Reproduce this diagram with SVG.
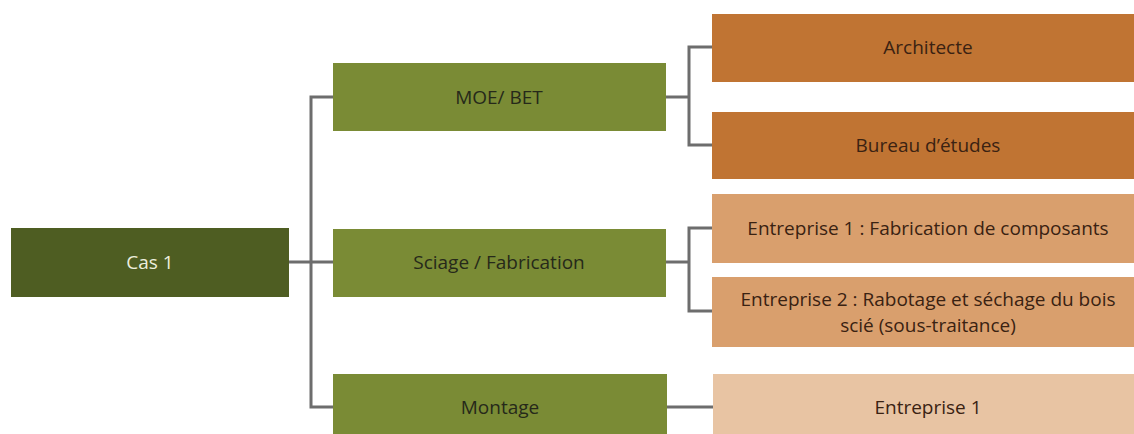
<svg xmlns="http://www.w3.org/2000/svg" width="1134" height="434" viewBox="0 0 1134 434">
<style>
.t{font-family:"Open Sans","Liberation Sans",sans-serif;font-size:19px;text-anchor:middle}
.dk{fill:#26291a}
.or{fill:#3a2212}
.c{stroke:#6d6d6d;stroke-width:3;fill:none}
</style>
<rect width="1134" height="434" fill="#ffffff"/>
<g id="connectors">
<path class="c" d="M289 262 H333"/>
<path class="c" d="M333 97 H311 V407 H333"/>
<path class="c" d="M665 97 H689"/>
<path class="c" d="M712 47 H689 V145 H712"/>
<path class="c" d="M665 262 H689"/>
<path class="c" d="M712 228 H689 V311 H712"/>
<path class="c" d="M667 407 H713"/>
</g>
<g id="cas1">
<rect x="11" y="228" width="278" height="69" fill="#4e5d22"/>
<text class="t" x="150" y="269" fill="#eceedd">Cas 1</text>
</g>
<g id="moe">
<rect x="333" y="63" width="333" height="68" fill="#7a8b35"/>
<text class="t dk" x="499" y="104">MOE/ BET</text>
</g>
<g id="sciage">
<rect x="333" y="229" width="333" height="68" fill="#7a8b35"/>
<text class="t dk" x="499" y="269">Sciage / Fabrication</text>
</g>
<g id="montage">
<rect x="333" y="374" width="334" height="60" fill="#7a8b35"/>
<text class="t dk" x="500" y="414">Montage</text>
</g>
<g id="architecte">
<rect x="712" y="14" width="422" height="68" fill="#c07433"/>
<text class="t or" x="928" y="54">Architecte</text>
</g>
<g id="bureau">
<rect x="712" y="112" width="422" height="67" fill="#c07433"/>
<text class="t or" x="928" y="152">Bureau d’études</text>
</g>
<g id="ent1fab">
<rect x="712" y="194" width="422" height="69" fill="#d99f6d"/>
<text class="t or" x="928" y="235">Entreprise 1 : Fabrication de composants</text>
</g>
<g id="ent2">
<rect x="712" y="277" width="422" height="70" fill="#d99f6d"/>
<text class="t or" x="928" y="306">Entreprise 2 : Rabotage et séchage du bois</text>
<text class="t or" x="928" y="332">scié (sous-traitance)</text>
</g>
<g id="ent1mont">
<rect x="713" y="374" width="421" height="60" fill="#e8c4a3"/>
<text class="t or" x="928" y="414">Entreprise 1</text>
</g>
</svg>
